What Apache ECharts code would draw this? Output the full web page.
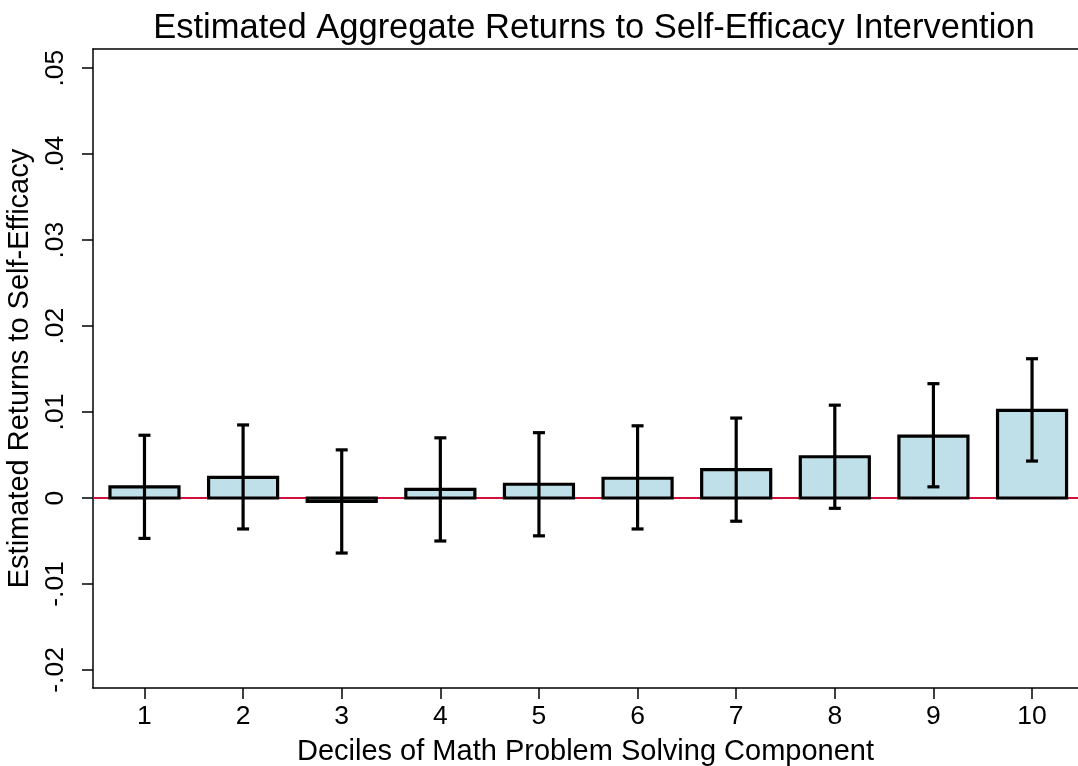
<!DOCTYPE html>
<html>
<head>
<meta charset="utf-8">
<script src="https://cdn.jsdelivr.net/npm/echarts@6/dist/echarts.min.js"></script>
<style>
  html, body { margin: 0; padding: 0; background: #fff; }
  #chart { width: 1078px; height: 766px; }
</style>
</head>
<body>
<div id="chart"></div>
<script>
// Deciles of the math problem-solving component
const deciles = [1, 2, 3, 4, 5, 6, 7, 8, 9, 10];
// Point estimates of the aggregate returns
const estimates = [0.0013, 0.0024, -0.0004, 0.0010, 0.0016, 0.0023, 0.0033, 0.0048, 0.0072, 0.0102];
// Confidence interval bounds
const ciLower = [-0.0047, -0.0036, -0.0064, -0.0050, -0.0044, -0.0036, -0.0027, -0.0012, 0.0013, 0.0043];
const ciUpper = [0.0073, 0.0085, 0.0056, 0.0070, 0.0076, 0.0084, 0.0093, 0.0108, 0.0133, 0.0162];
// Y-axis ticks and their labels
const yTicks = [-0.02, -0.01, 0, 0.01, 0.02, 0.03, 0.04, 0.05];
const yTickLabels = ['-.02', '-.01', '0', '.01', '.02', '.03', '.04', '.05'];

const FONT = '"Liberation Sans", Arial, Helvetica, sans-serif';
const BAR_HALF = 0.35;   // half bar width in x units
const CAP_HALF = 6;      // half cap width in px

const data = deciles.map((d, i) => [d, estimates[i], ciLower[i], ciUpper[i]]);

function renderItem(params, api) {
  const x = api.value(0);
  const v = api.value(1);
  const lo = api.value(2);
  const hi = api.value(3);
  const p0 = api.coord([x - BAR_HALF, Math.max(v, 0)]);
  const p1 = api.coord([x + BAR_HALF, Math.min(v, 0)]);
  const cLo = api.coord([x, lo]);
  const cHi = api.coord([x, hi]);
  const line = { stroke: '#000', lineWidth: 3.2 };
  return {
    type: 'group',
    children: [
      {
        type: 'rect',
        shape: { x: p0[0], y: p0[1], width: p1[0] - p0[0], height: p1[1] - p0[1] },
        style: { fill: '#c0e0e9', stroke: '#000', lineWidth: 3.2 }
      },
      { type: 'line', shape: { x1: cLo[0], y1: cLo[1], x2: cHi[0], y2: cHi[1] }, style: line },
      { type: 'line', shape: { x1: cHi[0] - CAP_HALF, y1: cHi[1], x2: cHi[0] + CAP_HALF, y2: cHi[1] }, style: line },
      { type: 'line', shape: { x1: cLo[0] - CAP_HALF, y1: cLo[1], x2: cLo[0] + CAP_HALF, y2: cLo[1] }, style: line }
    ]
  };
}

const chart = echarts.init(document.getElementById('chart'), null, { renderer: 'canvas' });
chart.setOption({
  animation: false,
  backgroundColor: '#fff',
  title: {
    text: 'Estimated Aggregate Returns to Self-Efficacy Intervention',
    left: 589,
    textAlign: 'center',
    top: 6,
    textStyle: { fontFamily: FONT, fontSize: 34.5, fontWeight: 'normal', color: '#000' }
  },
  grid: { left: 93, top: 49, right: 0, bottom: 78, containLabel: false, outerBoundsMode: 'none' },
  xAxis: [
    {
      type: 'value',
      min: 0.478,
      max: 10.466,
      position: 'bottom',
      name: 'Deciles of Math Problem Solving Component',
      nameLocation: 'middle',
      nameGap: 49,
      nameTextStyle: { fontFamily: FONT, fontSize: 29, color: '#000' },
      axisLine: { show: true, onZero: false, lineStyle: { color: '#000', width: 1.5 } },
      axisTick: { show: true, length: 11, lineStyle: { color: '#000', width: 1.5 }, customValues: deciles },
      axisLabel: { fontFamily: FONT, fontSize: 26.5, color: '#000', margin: 15, customValues: deciles },
      splitLine: { show: false }
    },
    {
      type: 'value',
      min: 0.478,
      max: 10.466,
      position: 'top',
      axisLine: { show: true, onZero: false, lineStyle: { color: '#000', width: 1.5 } },
      axisTick: { show: false },
      axisLabel: { show: false },
      splitLine: { show: false }
    }
  ],
  yAxis: {
    type: 'value',
    min: -0.0221,
    max: 0.05223,
    name: 'Estimated Returns to Self-Efficacy',
    nameLocation: 'middle',
    nameGap: 56,
    nameTextStyle: { fontFamily: FONT, fontSize: 29, color: '#000' },
    axisLine: { show: true, onZero: false, lineStyle: { color: '#000', width: 1.5 } },
    axisTick: { show: true, length: 11, lineStyle: { color: '#000', width: 1.5 }, customValues: yTicks },
    axisLabel: {
      fontFamily: FONT, fontSize: 26.5, color: '#000', margin: 24, rotate: 90,
      customValues: yTicks,
      formatter: function (val) {
        let best = 0;
        yTicks.forEach((t, i) => { if (Math.abs(t - val) < Math.abs(yTicks[best] - val)) best = i; });
        return yTickLabels[best];
      }
    },
    splitLine: { show: false }
  },
  series: [
    {
      type: 'custom',
      xAxisIndex: 0,
      renderItem: renderItem,
      data: data,
      z: 3,
      clip: true,
      markLine: {
        silent: true,
        symbol: 'none',
        z: 1,
        label: { show: false },
        lineStyle: { color: '#d0103a', width: 1.8, type: 'solid' },
        data: [{ yAxis: 0 }]
      }
    }
  ]
});
</script>
</body>
</html>
